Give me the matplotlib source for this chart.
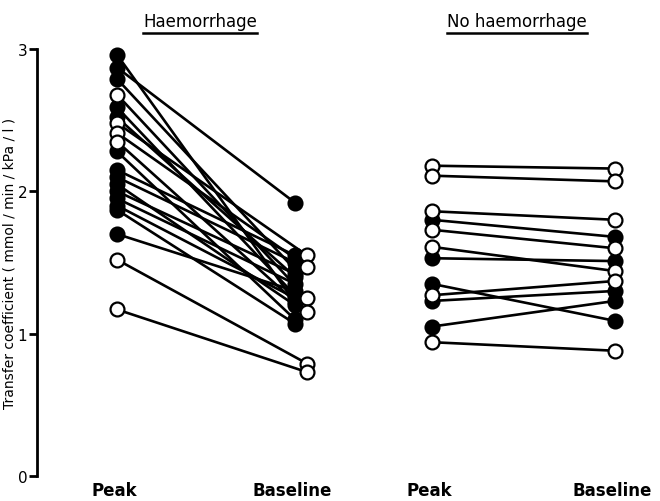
import matplotlib.pyplot as plt

# Haemorrhage group: peak -> baseline, filled flag (True = filled circle)
haem_peak = [2.96, 2.87, 2.79, 2.68, 2.59, 2.52, 2.48, 2.41, 2.35, 2.28,
             2.15, 2.10, 2.05, 2.00, 1.95, 1.90, 1.87, 1.70, 1.52, 1.17]
haem_base = [1.22, 1.92, 1.45, 1.25, 1.27, 1.40, 1.55, 1.47, 1.15, 1.10,
             1.55, 1.50, 1.20, 1.42, 1.35, 1.25, 1.07, 1.30, 0.79, 0.73]
haem_filled = [True, True, True, False, True, True, False, False, False, True,
               True, True, True, True, True, True, True, True, False, False]

# No haemorrhage group
noh_peak = [2.18, 2.11, 1.86, 1.80, 1.73, 1.61, 1.53, 1.35, 1.27, 1.23, 1.05, 0.94]
noh_base = [2.16, 2.07, 1.80, 1.68, 1.60, 1.44, 1.51, 1.09, 1.37, 1.30, 1.23, 0.88]
noh_peak_filled = [False, False, False, True, False, False, True, True, False, True, True, False]
noh_base_filled = [False, False, False, True, False, False, True, True, False, True, True, False]

labels = ['Peak', 'Baseline', 'Peak', 'Baseline']
yticks = [0, 1, 2, 3]

# horizontal positions (px-like units across the axes)
xpos = [117, 295, 432, 615]

fig = plt.figure(figsize=(6.6, 5.02), dpi=100)
ax = fig.add_axes([37 / 660, 25 / 502, 623 / 660, 427 / 502])
ax.set_xlim(37, 660)
ax.set_ylim(0, 3)

lw = 1.9
ms = 10
mew = 1.6


def draw_group(x0, x1, peak, base, pf, bf, dx_open_base=0, dx_open_peak=0):
    for p, b, f1, f2 in zip(peak, base, pf, bf):
        xa = x0 + (0 if f1 else dx_open_peak)
        xb = x1 + (0 if f2 else dx_open_base)
        ax.plot([xa, xb], [p, b], color='black', lw=lw, zorder=2, clip_on=False)
    for p, b, f1, f2 in zip(peak, base, pf, bf):
        xa = x0 + (0 if f1 else dx_open_peak)
        xb = x1 + (0 if f2 else dx_open_base)
        ax.plot(xa, p, 'o', ms=ms, mew=mew, mec='black',
                mfc='black' if f1 else 'white', zorder=3 if f1 else 4, clip_on=False)
        ax.plot(xb, b, 'o', ms=ms, mew=mew, mec='black',
                mfc='black' if f2 else 'white', zorder=3 if f2 else 4, clip_on=False)


draw_group(xpos[0], xpos[1], haem_peak, haem_base, haem_filled, haem_filled,
           dx_open_base=12)
draw_group(xpos[2], xpos[3], noh_peak, noh_base, noh_peak_filled, noh_base_filled)

# spines / ticks
for s in ['top', 'right', 'bottom']:
    ax.spines[s].set_visible(False)
ax.spines['left'].set_linewidth(2)
ax.spines['left'].set_bounds(0, 3)
ax.set_yticks(yticks)
ax.set_yticklabels([str(t) for t in yticks], fontsize=11)
ax.tick_params(axis='y', length=6, width=2, pad=1)
ax.set_xticks([])

ax.set_ylabel('Transfer coefficient ( mmol / min / kPa / l )', fontsize=10)
ax.yaxis.set_label_coords(-0.033, 0.5)

for x, lab in zip(xpos, labels):
    ax.text(x - 3, -0.035, lab, ha='center', va='top', fontsize=12,
            fontweight='bold', transform=ax.transData, clip_on=False)

# group titles, underlined
for xc, title in [(200, 'Haemorrhage'), (517, 'No haemorrhage')]:
    t = ax.text(xc, 3.13, title, ha='center', va='bottom', fontsize=12,
                transform=ax.transData, clip_on=False)
fig.canvas.draw()
r = fig.canvas.get_renderer()
for t in ax.texts[-2:]:
    bb = t.get_window_extent(r).transformed(ax.transData.inverted())
    ax.plot([bb.x0, bb.x1], [bb.y0 - 0.02, bb.y0 - 0.02], color='black', lw=1.8,
            clip_on=False)

fig.savefig('out.png', dpi=100)
